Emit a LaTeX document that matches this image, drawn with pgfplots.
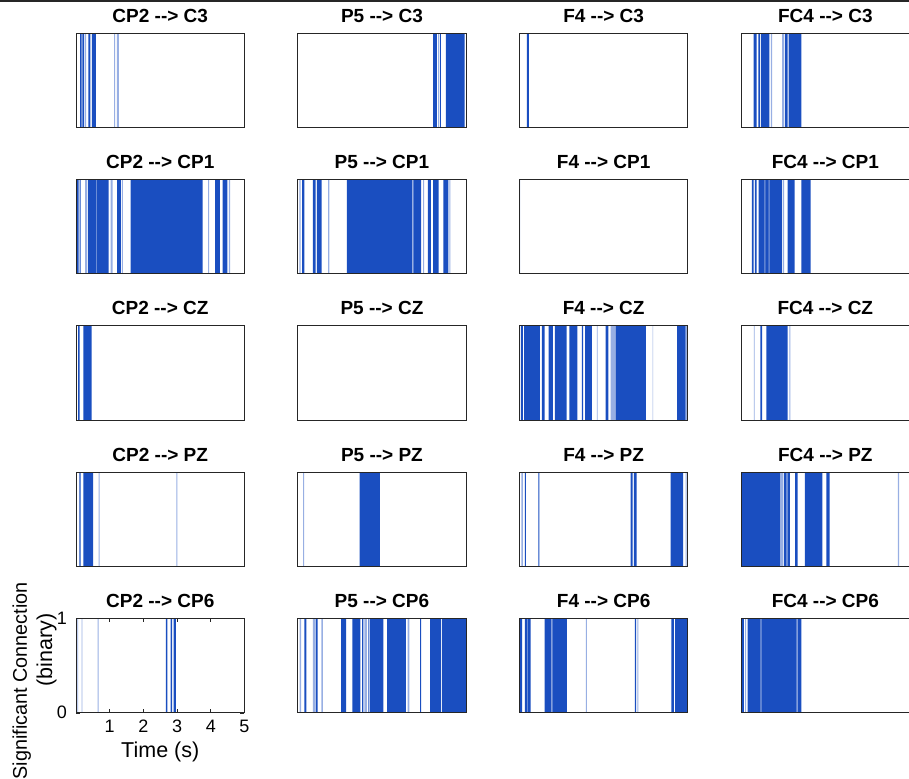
\documentclass[border=0pt]{standalone}
\usepackage{fontspec}
\setmainfont{Liberation Sans}
\usepackage{pgfplots}
\pgfplotsset{compat=1.18}
\definecolor{barblue}{RGB}{26,78,192}
\definecolor{framegray}{RGB}{38,38,38}
\newcommand{\arr}{\mbox{-}\mbox{-}>}
\pgfplotsset{
 panel/.style={scale only axis, width=168.5pt, height=94.3pt,
   xmin=0, xmax=5, ymin=0, ymax=1, xtick=\empty, ytick=\empty,
   axis on top, anchor=south west,
   axis line style={framegray, line width=0.9pt},
   title style={at={(axis description cs:0.5,1)}, anchor=base, yshift=5pt, inner sep=0pt,
     font=\fontsize{19}{20}\selectfont\bfseries}},
 dark/.style={fill=barblue, draw=none, const plot},
 light/.style={fill=barblue!45, draw=none, const plot},
}
\newcommand{\panel}[6][]{%
\begin{axis}[panel, #1, at={(#2pt,#3pt)}, title={#4}]
\addplot[light] coordinates {(0,0) #6 (5,0)} \closedcycle;
\addplot[dark] coordinates {(0,0) #5 (5,0)} \closedcycle;
\end{axis}}
\begin{document}
\begin{tikzpicture}
% ---------------- row 1 ----------------
\panel{76}{650.4}{CP2 \arr{} C3}
 {(0.12,1)(0.17,0)(0.19,1)(0.24,0)(0.37,1)(0.43,0)(0.47,1)(0.59,0)}
 {(0.26,1)(0.30,0)(1.13,1)(1.16,0)(1.21,1)(1.27,0)}
\panel{297.7}{650.4}{P5 \arr{} C3}
 {(4.02,1)(4.13,0)(4.22,1)(4.25,0)(4.40,1)(4.95,0)}
 {(4.17,1)(4.19,0)}
\panel{519.4}{650.4}{F4 \arr{} C3}
 {(0.22,1)(0.28,0)}
 {}
\panel{741.1}{650.4}{FC4 \arr{} C3}
 {(0.37,1)(0.46,0)(0.51,1)(0.56,0)(0.59,1)(0.84,0)(1.30,1)(1.38,0)(1.41,1)(1.79,0)}
 {(0.88,1)(0.92,0)(1.22,1)(1.27,0)}
% ---------------- row 2 ----------------
\panel{76}{504.1}{CP2 \arr{} CP1}
 {(0.03,1)(0.08,0)(0.11,1)(0.14,0)(0.35,1)(0.60,0)(0.62,1)(0.97,0)(1.22,1)(1.33,0)(1.62,1)(3.76,0)(4.13,1)(4.27,0)(4.35,1)(4.49,0)}
 {(0.27,1)(0.32,0)(0.60,1)(0.62,0)(1.03,1)(1.09,0)(1.36,1)(1.39,0)(3.92,1)(3.95,0)(4.54,1)(4.57,0)}
\panel{297.7}{504.1}{P5 \arr{} CP1}
 {(0.13,1)(0.20,0)(0.45,1)(0.53,0)(0.57,1)(0.71,0)(1.46,1)(3.39,0)(3.43,1)(3.66,0)(3.86,1)(3.95,0)(4.02,1)(4.18,0)(4.32,1)(4.47,0)}
 {(0.05,1)(0.09,0)(0.90,1)(0.94,0)(3.39,1)(3.43,0)(3.72,1)(3.75,0)(4.50,1)(4.53,0)}
\panel{519.4}{504.1}{F4 \arr{} CP1}
 {}
 {(0,1)(0.02,0)}
\panel{741.1}{504.1}{FC4 \arr{} CP1}
 {(0.32,1)(0.37,0)(0.41,1)(0.46,0)(0.52,1)(0.70,0)(0.72,1)(0.82,0)(0.84,1)(1.22,0)(1.38,1)(1.59,0)(1.79,1)(2.06,0)}
 {(0.70,1)(0.84,0)(1.25,1)(1.28,0)}
% ---------------- row 3 ----------------
\panel{76}{357.8}{CP2 \arr{} CZ}
 {(0.06,1)(0.11,0)(0.22,1)(0.46,0)}
 {}
\panel{297.7}{357.8}{P5 \arr{} CZ}
 {}
 {}
\panel{519.4}{357.8}{F4 \arr{} CZ}
 {(0.04,1)(0.10,0)(0.14,1)(0.61,0)(0.67,1)(0.75,0)(0.87,1)(0.99,0)(1.05,1)(1.40,0)(1.48,1)(1.72,0)(1.85,1)(1.89,0)(1.95,1)(2.15,0)(2.56,1)(2.64,0)(2.86,1)(3.75,0)(4.68,1)(4.93,0)}
 {(2.30,1)(2.32,0)(2.71,1)(2.86,0)(3.95,1)(3.97,0)(4.95,1)(4.98,0)}
\panel{741.1}{357.8}{FC4 \arr{} CZ}
 {(0.57,1)(0.62,0)(0.75,1)(1.38,0)}
 {(0.38,1)(0.40,0)(1.43,1)(1.46,0)}
% ---------------- row 4 ----------------
\panel{76}{211.5}{CP2 \arr{} PZ}
 {(0.10,1)(0.14,0)(0.22,1)(0.51,0)}
 {(0.67,1)(0.70,0)(2.98,1)(3.01,0)}
\panel{297.7}{211.5}{P5 \arr{} PZ}
 {(1.84,1)(2.44,0)}
 {(0.16,1)(0.19,0)}
\panel{519.4}{211.5}{F4 \arr{} PZ}
 {(0.16,1)(0.19,0)(0.56,1)(0.59,0)(3.30,1)(3.36,0)(3.40,1)(3.48,0)(4.49,1)(4.86,0)}
 {(0.06,1)(0.10,0)(4.93,1)(4.96,0)}
\panel{741.1}{211.5}{FC4 \arr{} PZ}
 {(0,1)(1.15,0)(1.27,1)(1.35,0)(1.37,1)(1.45,0)(1.60,1)(1.68,0)(1.89,1)(2.41,0)(2.53,1)(2.63,0)}
 {(1.15,1)(1.25,0)(4.65,1)(4.69,0)}
% ---------------- row 5 ----------------
\panel[xtick={1,2,3,4,5}, ytick={0,1}, tick align=inside,
  major tick length=4pt, tick style={framegray, line width=0.6pt},
  /pgf/number format/assume math mode=true,
  xticklabel style={font=\fontsize{18}{18}\selectfont, yshift=-4pt},
  yticklabel style={font=\fontsize{18}{18}\selectfont, xshift=-5.5pt},
  xlabel={Time (s)},
  xlabel style={at={(axis description cs:0.5,0)}, anchor=base, yshift=-45pt, inner sep=0pt,
    font=\fontsize{21.5}{22}\selectfont}]
 {76}{65.2}{CP2 \arr{} CP6}
 {(2.67,1)(2.71,0)(2.81,1)(2.85,0)(2.90,1)(2.96,0)}
 {(0.04,1)(0.06,0)(0.17,1)(0.19,0)(0.64,1)(0.67,0)}
\panel{297.7}{65.2}{P5 \arr{} CP6}
 {(0.20,1)(0.26,0)(0.53,1)(0.59,0)(1.29,1)(1.44,0)(1.62,1)(1.86,0)(1.91,1)(1.95,0)(2.10,1)(2.13,0)(2.15,1)(2.54,0)(2.65,1)(3.21,0)(3.63,1)(3.66,0)(3.93,1)(4.25,0)(4.28,1)(4.99,0)}
 {(0.06,1)(0.10,0)(0.45,1)(0.51,0)(0.70,1)(0.75,0)(1.98,1)(2.05,0)(3.26,1)(3.31,0)}
\panel{519.4}{65.2}{F4 \arr{} CP6}
 {(0.02,1)(0.08,0)(0.16,1)(0.24,0)(0.25,1)(0.33,0)(0.75,1)(0.95,0)(0.98,1)(1.41,0)(3.43,1)(3.46,0)(4.51,1)(4.58,0)(4.62,1)(4.99,0)}
 {(0.95,1)(0.98,0)(1.97,1)(2.00,0)(3.50,1)(3.53,0)}
\panel{741.1}{65.2}{FC4 \arr{} CP6}
 {(0.03,1)(0.08,0)(0.19,1)(0.58,0)(0.60,1)(1.65,0)(1.68,1)(1.79,0)}
 {(0.12,1)(0.15,0)(0.58,1)(0.60,0)(1.65,1)(1.68,0)}
% y label
\node[rotate=90, anchor=base, inner sep=0pt, font=\fontsize{19.8}{21}\selectfont] at (27pt,97pt) {Significant Connection};
\node[rotate=90, anchor=base, inner sep=0pt, font=\fontsize{21.5}{22}\selectfont] at (52pt,128pt) {(binary)};
% top border line
\draw[framegray, line width=4pt] (0,778pt) -- (909pt,778pt);
\pgfresetboundingbox
\useasboundingbox (0,0) rectangle (909pt,778pt);
\end{tikzpicture}
\end{document}
